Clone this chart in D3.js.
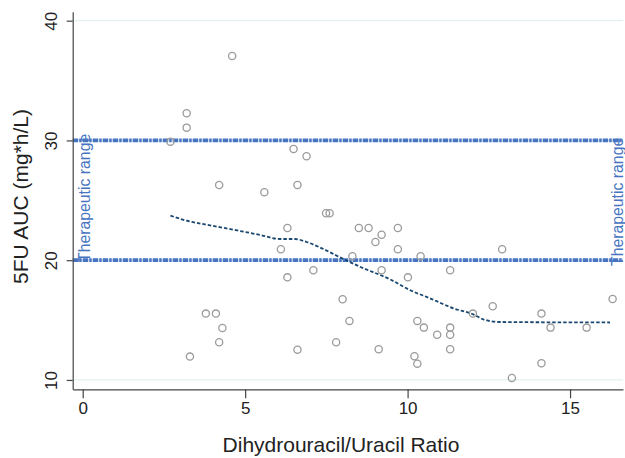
<!DOCTYPE html>
<meta charset="utf-8" />
<style>
  body { margin: 0; background: #fff; }
  svg { display: block; font-family: "Liberation Sans", Arial, sans-serif; }
  .tick text { fill: #222; }
</style>
<body>
<script src="https://cdn.jsdelivr.net/npm/d3@7"></script>
<script>
  // measured patients: DHU/U ratio and 5FU AUC
  var ratio = [4.60, 3.20, 3.20, 2.70, 6.49, 6.89, 4.20, 5.59, 6.61, 6.30,
               6.10, 7.10, 6.30, 3.79, 4.10, 4.30, 4.20, 3.30, 6.61, 7.49,
               7.60, 8.50, 8.80, 9.20, 9.01, 9.70, 9.70, 8.30, 10.40, 9.20,
               10.01, 11.31, 8.00, 8.21, 7.80, 9.11, 10.30, 10.50, 10.91, 11.31,
               11.31, 11.31, 10.21, 10.30, 12.01, 12.91, 12.62, 14.12, 14.40, 15.51,
               16.31, 14.12, 13.21];
  var auc = [37.05, 32.27, 31.07, 29.90, 29.29, 28.68, 26.28, 25.67, 26.28, 22.69,
             20.91, 19.16, 18.57, 15.54, 15.54, 14.34, 13.15, 11.95, 12.53, 23.92,
             23.92, 22.69, 22.69, 22.13, 21.52, 22.69, 20.91, 20.33, 20.33, 19.16,
             18.57, 19.16, 16.74, 14.93, 13.15, 12.56, 14.93, 14.37, 13.78, 14.37,
             13.78, 12.56, 11.98, 11.36, 15.54, 20.91, 16.15, 15.54, 14.37, 14.37,
             16.76, 11.39, 10.17];

  // lowess smooth
  var fitX = [2.70, 3.20, 4.02, 4.84, 5.46, 6.07, 6.53, 6.89, 7.30, 7.92,
              8.53, 9.46, 10.07, 10.69, 11.41, 12.02, 12.33, 12.84, 16.23];
  var fitY = [23.72, 23.30, 22.86, 22.44, 22.11, 21.77, 21.77, 21.52, 21.07, 20.24,
              19.46, 18.40, 17.51, 16.82, 15.98, 15.48, 15.06, 14.84, 14.80];

  var xTicks = [0, 5, 10, 15];
  var yTicks = [10, 20, 30, 40];
  var refLines = [20, 30];
  var refLabel = "Therapeutic range";

  var width = 625, height = 458;
  var x = d3.scaleLinear().domain([-0.308, 16.63]).range([72.7, 623]);
  var y = d3.scaleLinear().domain([9.22, 40.75]).range([389.3, 11.7]);

  var svg = d3.select("body").append("svg")
    .attr("width", width).attr("height", height);

  // grid
  svg.append("g").selectAll("line").data(yTicks).enter().append("line")
    .attr("x1", x.range()[0]).attr("x2", x.range()[1])
    .attr("y1", function (d) { return y(d); })
    .attr("y2", function (d) { return y(d); })
    .attr("stroke", "#e6eff2").attr("stroke-width", 1.2);

  // reference lines
  svg.append("g").selectAll("line").data(refLines).enter().append("line")
    .attr("x1", x.range()[0]).attr("x2", x.range()[1])
    .attr("y1", function (d) { return y(d); })
    .attr("y2", function (d) { return y(d); })
    .attr("stroke", "#4674c1").attr("stroke-width", 3.8)
    .attr("stroke-dasharray", "5.5,1,2.5,1");

  // labels on the range
  [[90, 262], [623, 266]].forEach(function (p) {
    svg.append("text")
      .attr("transform", "translate(" + p[0] + "," + p[1] + ") rotate(-90)")
      .attr("font-size", "15.8px")
      .attr("fill", "#4674c1")
      .text(refLabel);
  });

  // lowess curve
  var line = d3.line()
    .x(function (d, i) { return x(fitX[i]); })
    .y(function (d, i) { return y(fitY[i]); })
    .curve(d3.curveMonotoneX);
  svg.append("path").datum(fitX)
    .attr("d", line)
    .attr("fill", "none")
    .attr("stroke", "#1a476f")
    .attr("stroke-width", 1.8)
    .attr("stroke-dasharray", "3.5,2");

  // points
  svg.append("g").selectAll("circle").data(ratio).enter().append("circle")
    .attr("cx", function (d) { return x(d); })
    .attr("cy", function (d, i) { return y(auc[i]); })
    .attr("r", 3.6)
    .attr("fill", "none")
    .attr("stroke", "#9b9b9b")
    .attr("stroke-width", 1.3);

  // axes
  var xAxis = svg.append("g")
    .attr("transform", "translate(0," + 389.3 + ")")
    .call(d3.axisBottom(x).tickValues(xTicks).tickSize(9).tickPadding(4).tickSizeOuter(0));
  xAxis.selectAll("text").attr("font-size", "17px").attr("font-family", "Liberation Sans, Arial, sans-serif");

  var yAxis = svg.append("g")
    .attr("transform", "translate(72.7,0)")
    .call(d3.axisLeft(y).tickValues(yTicks).tickSize(6).tickSizeOuter(0));
  yAxis.selectAll("text")
    .attr("font-size", "17px")
    .attr("font-family", "Liberation Sans, Arial, sans-serif")
    .attr("x", null).attr("dy", null)
    .attr("text-anchor", "middle")
    .attr("transform", "translate(-15.5,0) rotate(-90)");

  [xAxis, yAxis].forEach(function (a) {
    a.select(".domain").attr("stroke", "#444").attr("stroke-width", 1.2);
    a.selectAll(".tick line").attr("stroke", "#444").attr("stroke-width", 1.2);
  });

  // axis titles
  svg.append("text")
    .attr("x", 341).attr("y", 451.5)
    .attr("text-anchor", "middle")
    .attr("font-size", "21px")
    .attr("fill", "#222")
    .text("Dihydrouracil/Uracil Ratio");

  svg.append("text")
    .attr("transform", "translate(28,196.5) rotate(-90)")
    .attr("text-anchor", "middle")
    .attr("font-size", "21px")
    .attr("fill", "#222")
    .text("5FU AUC (mg*h/L)");
</script>
</body>
